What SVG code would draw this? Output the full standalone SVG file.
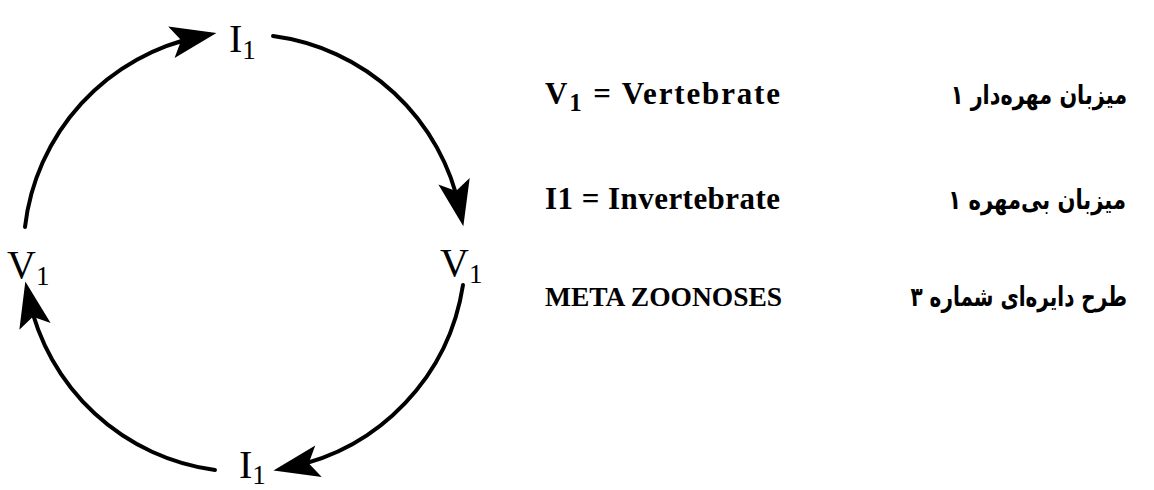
<svg xmlns="http://www.w3.org/2000/svg" width="1154" height="490" viewBox="0 0 1154 490">
<style>
.arc{fill:none;stroke:#000;stroke-width:4;stroke-linecap:round}
.lbl{font-family:"Liberation Serif","Times New Roman",serif;font-size:40px;fill:#000}
.sub{font-size:27px}
.en{font-family:"Liberation Serif","Times New Roman",serif;font-size:31px;font-weight:bold;fill:#000}
.en.small{font-size:27.5px}
.fa{font-family:"DejaVu Sans","Noto Sans",sans-serif;font-size:27px;font-weight:bold;fill:#000}
</style>
<defs>
<marker id="ah" markerUnits="userSpaceOnUse" orient="auto" markerWidth="60" markerHeight="40" refX="0" refY="0" overflow="visible">
<path d="M17,0 L-29,-16 L-19,0 L-29,16 Z" fill="#000"/>
</marker>
</defs>
<rect width="1154" height="490" fill="#fff"/>
<g id="connectors">
<path class="arc" d="M25,227 A220,220 0 0 1 199.8,36.5" marker-end="url(#ah)"/>
<path class="arc" d="M273,36 A220,220 0 0 1 459.9,209.6" marker-end="url(#ah)"/>
<path class="arc" d="M463,285 A220,220 0 0 1 290.1,467.1" marker-end="url(#ah)"/>
<path class="arc" d="M215,470 A220,220 0 0 1 28.9,298.1" marker-end="url(#ah)"/>
</g>
<g id="node-I1-top"><text class="lbl" x="229" y="52">I<tspan class="sub" dy="7">1</tspan></text></g>
<g id="node-V1-right"><text class="lbl" x="440" y="276">V<tspan class="sub" dy="7">1</tspan></text></g>
<g id="node-V1-left"><text class="lbl" x="7" y="278">V<tspan class="sub" dy="7">1</tspan></text></g>
<g id="node-I1-bottom"><text class="lbl" x="239" y="478">I<tspan class="sub" dy="6">1</tspan></text></g>
<g id="legend-en">
<text class="en" x="545" y="104" textLength="235" lengthAdjust="spacing">V<tspan font-size="25" dy="7">1</tspan><tspan dy="-7">  =  Vertebrate</tspan></text>
<text class="en" x="545" y="209" textLength="235" lengthAdjust="spacing">I1  =  Invertebrate</text>
<text class="en small" x="545" y="306">META ZOONOSES</text>
</g>
<g id="legend-fa">
<text class="fa" transform="translate(1127,104) scale(0.77,1)" direction="rtl" text-anchor="start">میزبان مهره‌دار ۱</text>
<text class="fa" transform="translate(1126,209) scale(0.78,1)" direction="rtl" text-anchor="start">میزبان بی‌مهره ۱</text>
<text class="fa" transform="translate(1127,306) scale(0.74,1)" direction="rtl" text-anchor="start">طرح دایره‌ای شماره ۳</text>
</g>
</svg>
